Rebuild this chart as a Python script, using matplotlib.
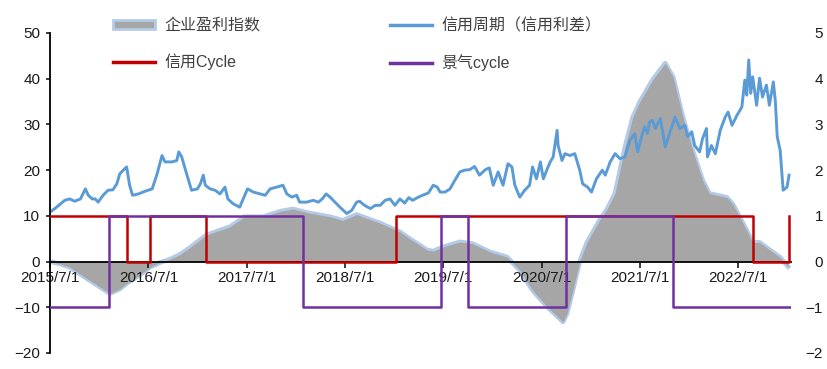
import numpy as np
import pandas as pd
import matplotlib
matplotlib.use('Agg')
import matplotlib.pyplot as plt
import matplotlib.dates as mdates
from matplotlib.patches import Patch
from matplotlib.lines import Line2D

plt.rcParams['font.family'] = ['Liberation Sans', 'Noto Sans CJK SC', 'DejaVu Sans']
plt.rcParams['axes.unicode_minus'] = True

# ---- data (time as decimal years) ----
profit_t = [2015.50, 2015.60, 2015.70, 2015.86, 2016.01, 2016.11, 2016.21, 2016.28, 2016.42, 2016.52,
            2016.62, 2016.72, 2016.82, 2016.92, 2017.09, 2017.33, 2017.48, 2017.67, 2017.84, 2017.97,
            2018.14, 2018.35, 2018.48, 2018.62, 2018.86, 2019.06, 2019.16, 2019.34, 2019.40, 2019.50,
            2019.67, 2019.80, 2019.98, 2020.15, 2020.28, 2020.41, 2020.56, 2020.72, 2020.76, 2020.82,
            2020.89, 2020.96, 2021.09, 2021.17, 2021.25, 2021.30, 2021.35, 2021.43, 2021.50, 2021.63,
            2021.76, 2021.84, 2021.94, 2022.04, 2022.14, 2022.21, 2022.39, 2022.45, 2022.59, 2022.65,
            2022.72, 2022.79, 2022.93, 2023.01]
profit_v = [0.0, -0.5, -1.2, -3.5, -5.6, -7.0, -6.0, -4.8, -2.8, -1.2,
            -0.2, 0.5, 1.5, 3.0, 5.8, 7.6, 9.8, 9.8, 11.0, 11.5,
            10.6, 9.8, 9.0, 10.3, 8.4, 6.5, 5.0, 2.5, 2.3, 3.2,
            4.3, 3.9, 2.1, 1.0, -1.9, -6.3, -9.9, -13.2, -11.4, -6.3,
            0.0, 4.0, 9.0, 11.5, 15.0, 20.0, 25.0, 31.6, 34.9, 39.7,
            43.4, 40.4, 31.6, 24.3, 17.8, 14.9, 14.0, 12.5, 6.8, 4.2,
            4.2, 3.1, 0.9, -1.1]

spread_t = [2015.50, 2015.55, 2015.65, 2015.70, 2015.75, 2015.81, 2015.86, 2015.89, 2015.93, 2015.96,
            2015.99, 2016.04, 2016.09, 2016.14, 2016.18, 2016.21, 2016.26, 2016.28, 2016.31, 2016.34,
            2016.40, 2016.47, 2016.54, 2016.59, 2016.64, 2016.67, 2016.74, 2016.79, 2016.81, 2016.84,
            2016.89, 2016.94, 2017.00, 2017.03, 2017.06, 2017.08, 2017.13, 2017.18, 2017.23, 2017.28,
            2017.31, 2017.36, 2017.43, 2017.46, 2017.51, 2017.57, 2017.64, 2017.69, 2017.74, 2017.81,
            2017.87, 2017.91, 2017.96, 2018.01, 2018.04, 2018.11, 2018.18, 2018.23, 2018.27, 2018.31,
            2018.35, 2018.40, 2018.45, 2018.52, 2018.57, 2018.62, 2018.65, 2018.70, 2018.76, 2018.81,
            2018.86, 2018.91, 2018.96, 2019.01, 2019.06, 2019.11, 2019.15, 2019.19, 2019.24, 2019.29,
            2019.35, 2019.40, 2019.44, 2019.47, 2019.52, 2019.57, 2019.62, 2019.67, 2019.72, 2019.77,
            2019.82, 2019.87, 2019.93, 2019.97, 2020.01, 2020.06, 2020.11, 2020.16, 2020.20, 2020.23,
            2020.28, 2020.33, 2020.38, 2020.41, 2020.45, 2020.49, 2020.52, 2020.56, 2020.59, 2020.62,
            2020.66, 2020.67, 2020.71, 2020.74, 2020.79, 2020.84, 2020.89, 2020.92, 2020.97, 2021.01,
            2021.06, 2021.12, 2021.15, 2021.20, 2021.25, 2021.30, 2021.35, 2021.40, 2021.45, 2021.48,
            2021.52, 2021.55, 2021.58, 2021.60, 2021.63, 2021.66, 2021.71, 2021.76, 2021.81, 2021.86,
            2021.91, 2021.96, 2021.99, 2022.03, 2022.06, 2022.11, 2022.14, 2022.18, 2022.19, 2022.23,
            2022.27, 2022.32, 2022.37, 2022.40, 2022.44, 2022.49, 2022.54, 2022.57, 2022.59, 2022.61,
            2022.63, 2022.65, 2022.69, 2022.72, 2022.75, 2022.79, 2022.82, 2022.86, 2022.88, 2022.90,
            2022.93, 2022.96, 2023.00, 2023.02]
spread_v = [10.8, 11.6, 13.4, 13.7, 13.2, 13.7, 15.9, 14.5, 13.7, 13.7,
            13.0, 14.5, 15.6, 15.7, 17.0, 19.2, 20.3, 20.7, 16.7, 14.5,
            14.8, 15.4, 15.9, 19.2, 23.2, 21.8, 21.8, 22.1, 24.0, 22.9,
            19.2, 15.6, 15.9, 17.0, 18.9, 16.7, 15.9, 15.6, 14.8, 16.3,
            13.7, 12.7, 11.9, 13.4, 15.9, 15.2, 14.8, 14.5, 15.9, 16.3,
            16.7, 14.8, 14.1, 14.5, 13.0, 13.0, 13.4, 13.0, 13.7, 14.8,
            14.1, 13.0, 11.9, 10.5, 11.2, 13.0, 13.2, 12.3, 11.6, 12.3,
            12.3, 13.4, 13.7, 12.3, 13.7, 12.8, 14.0, 13.4, 14.0, 14.5,
            15.0, 16.7, 16.3, 15.2, 15.2, 15.9, 17.8, 19.6, 20.0, 20.1,
            20.8, 18.9, 20.1, 20.5, 16.7, 19.6, 16.7, 21.4, 20.7, 16.7,
            14.1, 15.6, 16.7, 20.7, 18.1, 21.8, 18.1, 20.3, 21.8, 22.9,
            28.7, 25.4, 22.1, 23.6, 23.2, 23.6, 20.0, 17.0, 16.3, 15.2,
            18.1, 20.0, 18.9, 21.8, 23.6, 22.5, 22.9, 26.5, 28.0, 24.0,
            27.3, 29.5, 28.0, 30.5, 30.9, 29.1, 31.3, 25.1, 28.4, 31.6,
            29.1, 29.8, 27.3, 28.4, 25.4, 24.0, 26.9, 29.1, 22.9, 25.4,
            23.6, 28.7, 31.6, 32.7, 29.8, 32.0, 33.8, 39.7, 36.4, 44.1,
            36.8, 40.4, 34.2, 40.1, 36.0, 38.6, 34.2, 39.3, 35.3, 27.3,
            24.3, 15.6, 16.3, 18.9]

credit_t = [2015.50, 2016.28, 2016.52, 2017.09, 2019.02, 2022.65, 2023.02]
credit_v = [1, 0, 1, 0, 1, 0, 1]

boom_t = [2015.50, 2016.10, 2018.07, 2019.48, 2019.75, 2020.75, 2021.84, 2023.03]
boom_v = [-1, 1, -1, 1, -1, 1, -1, -1]

tick_years = list(range(2015, 2023))
left_ticks = [-20, -10, 0, 10, 20, 30, 40, 50]
right_ticks = [-2, -1, 0, 1, 2, 3, 4, 5]

label_profit = '企业盈利指数'
label_spread = '信用周期（信用利差）'
label_credit = '信用Cycle'
label_boom = '景气cycle'


def to_dates(t):
    base = pd.Timestamp('2015-07-01')
    return base + pd.to_timedelta((np.asarray(t, dtype=float) - 2015.5) * 365.25, unit='D')


C_GRAY = '#A6A6A6'
C_EDGE = '#B4CBE8'
C_BLUE = '#5B9BD5'
C_RED = '#C00000'
C_PURPLE = '#7030A0'

fig = plt.figure(figsize=(8.28, 3.69), dpi=100)
ax = fig.add_axes([50 / 828, 1 - 353 / 369, 741 / 828, 320 / 369])
ax2 = ax.twinx()

pd_profit = to_dates(profit_t)
ax.plot(pd_profit, profit_v, color=C_EDGE, lw=3.4, zorder=1, solid_joinstyle='round')
ax.fill_between(pd_profit, profit_v, 0, color=C_GRAY, lw=0, zorder=1.1)
ax.plot(to_dates(spread_t), spread_v, color=C_BLUE, lw=2.1, zorder=2)

ax2.step(to_dates(credit_t), credit_v, where='post', color=C_RED, lw=1.8, zorder=2)
ax2.step(to_dates(boom_t), boom_v, where='post', color=C_PURPLE, lw=1.8, zorder=3)

ax.set_ylim(-20, 50)
ax2.set_ylim(-2, 5)
ax.set_xlim(to_dates([2015.50])[0], to_dates([2023.04])[0])

for s in ['top', 'right']:
    ax.spines[s].set_visible(False)
for s in ['top', 'right', 'left', 'bottom']:
    ax2.spines[s].set_visible(False)
ax.spines['bottom'].set_position(('data', 0))
ax.spines['bottom'].set_linewidth(1.3)
ax.spines['left'].set_linewidth(1.3)

ax.set_yticks(left_ticks)
ax.set_yticklabels([str(v).replace('-', '\u2212') for v in left_ticks])
ax.tick_params(axis='y', direction='out', length=3, width=1.2, pad=4, labelsize=11, colors='#1a1a1a')

xt = [pd.Timestamp(f'{y}-07-01') for y in tick_years]
ax.set_xticks(xt)
ax.set_xticklabels([f'{y}/7/1' for y in tick_years])
ax.tick_params(axis='x', direction='out', length=4, width=1.2, pad=2.5, labelsize=11, colors='#1a1a1a')

ax2.set_yticks(right_ticks)
ax2.set_yticklabels([str(v).replace('-', '\u2212') for v in right_ticks], ha='right')
ax2.tick_params(axis='y', length=0, pad=23, labelsize=11, colors='#1a1a1a')
for tk in ax2.yaxis.get_major_ticks():
    tk.label2.set_horizontalalignment('right')

h_profit = Patch(facecolor=C_GRAY, edgecolor=C_EDGE, lw=2)
h_spread = Line2D([], [], color=C_BLUE, lw=2.5)
h_credit = Line2D([], [], color=C_RED, lw=2.5)
h_boom = Line2D([], [], color=C_PURPLE, lw=2.5)

common = dict(loc='upper left', frameon=False, borderpad=0, borderaxespad=0,
              handlelength=2.6, handleheight=0.5, handletextpad=0.6, labelspacing=1.3,
              prop={'size': 11.5}, labelcolor='#404040')
fig.legend([h_profit, h_credit], [label_profit, label_credit],
           bbox_to_anchor=(113 / 828, 1 - 18 / 369), **common)
fig.legend([h_spread, h_boom], [label_spread, label_boom],
           bbox_to_anchor=(390 / 828, 1 - 18 / 369), **common)

fig.savefig('out.png', dpi=100, facecolor='white')
